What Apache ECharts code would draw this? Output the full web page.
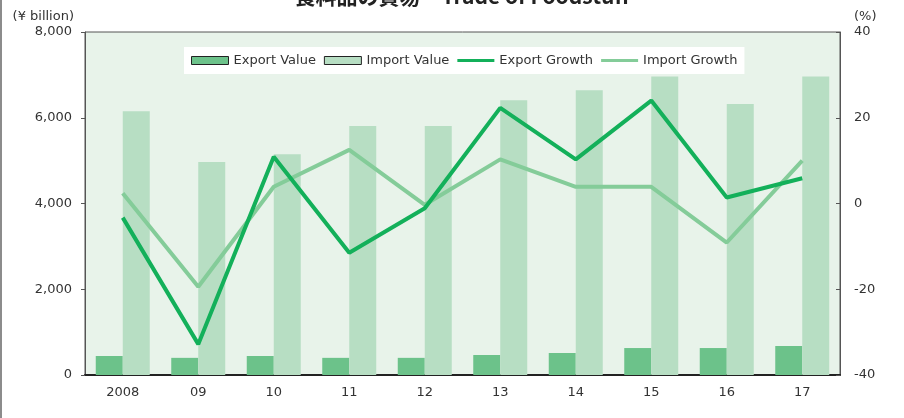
<!DOCTYPE html>
<html>
<head>
<meta charset="utf-8">
<script src="https://cdn.jsdelivr.net/npm/echarts@6/dist/echarts.min.js"></script>
<style>
  html, body { margin: 0; padding: 0; background: #fff; }
  #chart { width: 904px; height: 418px; }
</style>
</head>
<body>
<div id="chart"></div>
<script>
  var years = ['2008', '09', '10', '11', '12', '13', '14', '15', '16', '17']
  var exportValue = [443, 400, 443, 400, 400, 466, 513, 629, 629, 676]
  var importValue = [6150, 4970, 5150, 5810, 5810, 6410, 6640, 6960, 6320, 6960]
  var exportGrowth = [-3.3, -32.8, 10.9, -11.5, -1.1, 22.3, 10.3, 24.0, 1.4, 5.9]
  var importGrowth = [2.4, -19.4, 3.9, 12.5, -0.3, 10.3, 3.9, 3.9, -9.1, 10.0]

  var font = 'DejaVu Sans'
  var textColor = '#333'
  // 凡例の線アイコン（上下の move で高さ 8 を確保）
  var lineIcon = 'path://M0,0 M0,2.5 L37,2.5 L37,5.5 L0,5.5 Z M37,8'

  var mychart = echarts.init(document.getElementById('chart'))
  var option = {
    animation: false,
    textStyle: { fontFamily: font },
    graphic: [
      { type: 'rect', left: 0, top: 0, shape: { width: 2, height: 418 }, style: { fill: '#8c8c8c' } },
      {
        type: 'text', x: 462, y: -14,
        style: { text: '食料品の貿易　Trade of Foodstuff', textAlign: 'center', fill: '#222',
          font: 'bold 21px "Noto Sans CJK JP"' }
      },
      { type: 'text', x: 74, y: 10, style: { text: '(¥ billion)', textAlign: 'right', fill: textColor, font: '13px DejaVu Sans' } },
      { type: 'text', x: 854, y: 10, style: { text: '(%)', textAlign: 'left', fill: textColor, font: '13px DejaVu Sans' } }
    ],
    legend: {
      left: 184,
      top: 47,
      padding: [7, 7, 7, 7],
      backgroundColor: '#fff',
      itemGap: 8,
      itemWidth: 37,
      itemHeight: 8,
      textStyle: { color: textColor, fontSize: 13, fontFamily: font },
      data: [
        { name: 'Export Value', icon: 'rect', itemStyle: { borderColor: '#222', borderWidth: 1 } },
        { name: 'Import Value', icon: 'rect', itemStyle: { borderColor: '#222', borderWidth: 1 } },
        { name: 'Export Growth', icon: lineIcon, itemStyle: { color: '#13b05a', borderWidth: 0 } },
        { name: 'Import Growth', icon: lineIcon, itemStyle: { color: '#84cc99', borderWidth: 0 } }
      ]
    },
    grid: {
      left: 85,
      right: 64,
      top: 32,
      bottom: 43,
      show: true,
      backgroundColor: '#e8f3ea',
      borderColor: '#555',
      borderWidth: 1
    },
    xAxis: {
      type: 'category',
      data: years,
      boundaryGap: true,
      axisLine: { lineStyle: { color: '#222', width: 2 } },
      axisTick: { inside: true, length: 4, lineStyle: { color: '#222' } },
      axisLabel: { color: textColor, fontSize: 13, margin: 11 }
    },
    yAxis: [
      {
        type: 'value',
        min: 0,
        max: 8000,
        interval: 2000,
        axisLine: { show: true, lineStyle: { color: '#555' } },
        axisTick: { show: true, length: 4, lineStyle: { color: '#555' } },
        splitLine: { show: false },
        axisLabel: {
          color: textColor, fontSize: 13, margin: 13,
          formatter: function (v) { return v.toLocaleString('en-US') }
        }
      },
      {
        type: 'value',
        min: -40,
        max: 40,
        interval: 20,
        position: 'right',
        axisLine: { show: true, lineStyle: { color: '#555' } },
        axisTick: { show: true, inside: true, length: 4, lineStyle: { color: '#555' } },
        splitLine: { show: false },
        axisLabel: { color: textColor, fontSize: 13, margin: 14 }
      }
    ],
    series: [
      {
        name: 'Export Value', type: 'bar', yAxisIndex: 0,
        barWidth: 27, barGap: '0%',
        itemStyle: { color: '#6cc28a' },
        data: exportValue
      },
      {
        name: 'Import Value', type: 'bar', yAxisIndex: 0,
        barWidth: 27,
        itemStyle: { color: '#b7dec3' },
        data: importValue
      },
      {
        name: 'Export Growth', type: 'line', yAxisIndex: 1,
        symbol: 'none', z: 4,
        lineStyle: { color: '#13b05a', width: 4 },
        itemStyle: { color: '#13b05a' },
        data: exportGrowth
      },
      {
        name: 'Import Growth', type: 'line', yAxisIndex: 1,
        symbol: 'none', z: 3,
        lineStyle: { color: '#84cc99', width: 4 },
        itemStyle: { color: '#84cc99' },
        data: importGrowth
      }
    ]
  }
  mychart.setOption(option)
</script>
</body>
</html>
